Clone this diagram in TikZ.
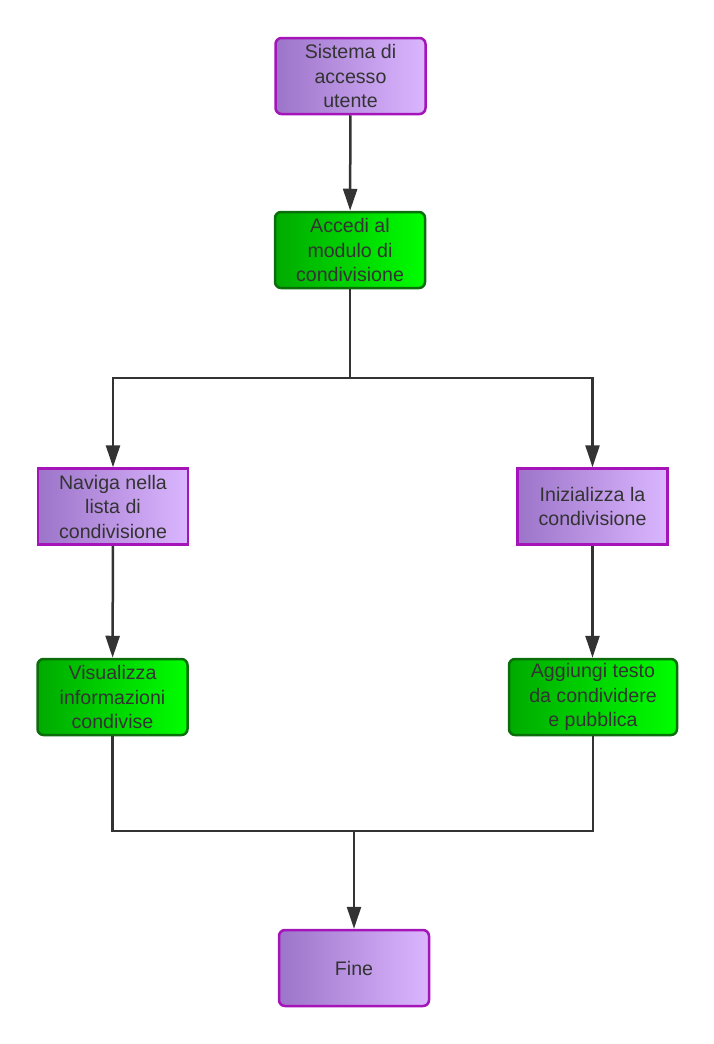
\documentclass[tikz,border=0pt]{standalone}
\usepackage{fontspec}
\setmainfont{Liberation Sans}
\usetikzlibrary{arrows.meta}
\definecolor{pl}{HTML}{9C74C9}
\definecolor{pr}{HTML}{DBB6FF}
\definecolor{pb}{HTML}{A514B8}
\definecolor{gl}{HTML}{00AA00}
\definecolor{gr}{HTML}{00FF00}
\definecolor{gb}{HTML}{0B6E0B}
\definecolor{tx}{HTML}{333333}
\definecolor{ln}{HTML}{333333}
\tikzset{
  box/.style={minimum width=150pt, minimum height=76pt, inner sep=0pt, align=center,
    text=tx, font=\fontsize{19.6}{24.5}\selectfont, line width=2.5pt},
  purplebox/.style={box, draw=pb, left color=pl, right color=pr},
  greenbox/.style={box, draw=gb, left color=gl, right color=gr},
  rnd/.style={rounded corners=6pt},
  conn/.style={draw=ln, line width=2.5pt},
  arr/.style={conn, -{Triangle[length=22pt,width=14pt]}}
}
\begin{document}
\begin{tikzpicture}[x=1pt,y=-1pt]
\useasboundingbox (0,0) rectangle (714,1044);
\node[purplebox,rnd] (s) at (350.5,76) {Sistema di\\accesso\\utente};
\node[greenbox,rnd] (a) at (350,250) {Accedi al\\modulo di\\condivisione};
\node[purplebox] (n) at (113,506.5) {Naviga nella\\lista di\\condivisione};
\node[purplebox] (i) at (592.5,506.5) {Inizializza la\\condivisione};
\node[greenbox,rnd] (v) at (112.5,697) {Visualizza\\informazioni\\condivise};
\node[greenbox,rnd,minimum width=168pt] (g) at (593,697) {Aggiungi testo\\da condividere\\e pubblica};
\node[purplebox,rnd] (f) at (354,968) {Fine};
\coordinate (j1) at (350,378);
\coordinate (j2) at (354,831);
\draw[arr] (s) -- (a);
\draw[conn] (a) -- (j1);
\draw[arr] (j1) -| (n);
\draw[arr] (j1) -| (i);
\draw[arr] (n) -- (v);
\draw[arr] (i.south) -- (i.south |- g.north);
\draw[conn] (v.south) |- (j2);
\draw[conn] (g.south) |- (j2);
\draw[arr] (j2) -- (f);
\end{tikzpicture}
\end{document}
